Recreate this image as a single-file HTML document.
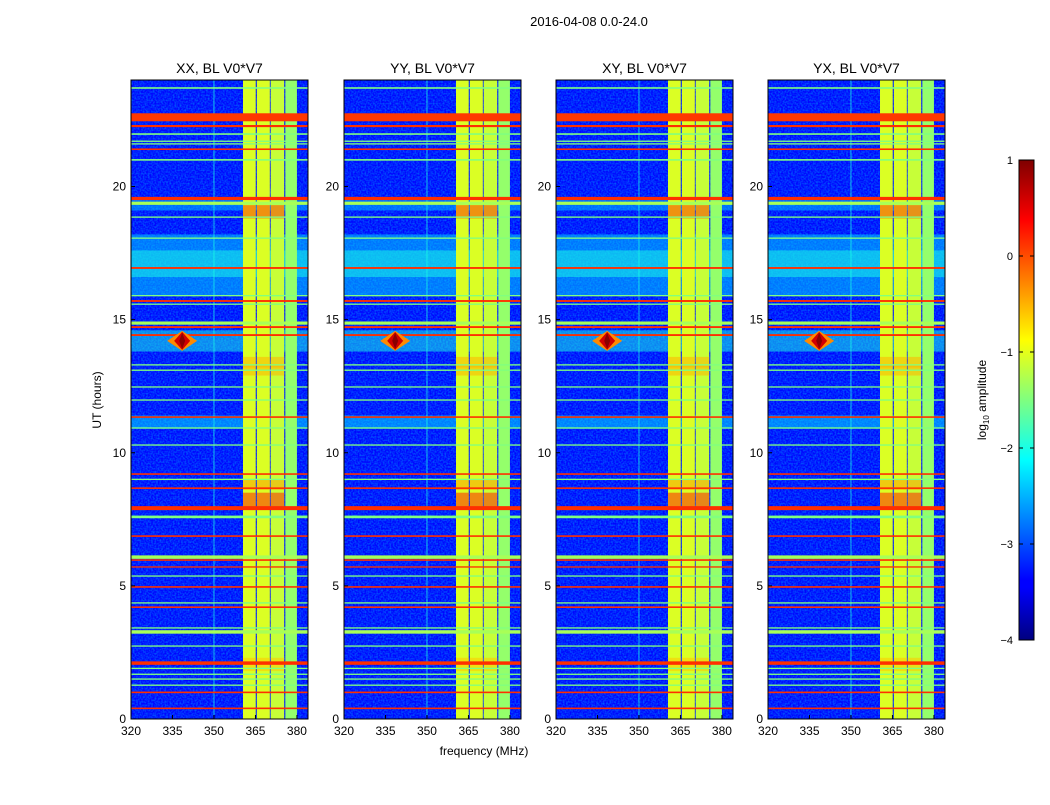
<!DOCTYPE html>
<html><head><meta charset="utf-8"><style>
body{margin:0;background:#fff;}
svg text{font-family:"Liberation Sans",sans-serif;fill:#000;}
</style></head><body>
<svg id="fig" width="1050" height="800" xmlns="http://www.w3.org/2000/svg">
<rect width="1050" height="800" fill="#fff"/>
<text x="589" y="26" font-size="13" text-anchor="middle">2016-04-08 0.0-24.0</text>
<text x="484" y="755" font-size="12" text-anchor="middle">frequency (MHz)</text>
<text transform="translate(101,400) rotate(-90)" font-size="12" text-anchor="middle">UT (hours)</text>
<defs><linearGradient id="jet" x1="0" y1="1" x2="0" y2="0">
<stop offset="0" stop-color="#00007f"/><stop offset="0.11" stop-color="#0000ff"/><stop offset="0.125" stop-color="#0000ff"/>
<stop offset="0.375" stop-color="#00ffff"/><stop offset="0.625" stop-color="#ffff00"/><stop offset="0.875" stop-color="#ff0000"/><stop offset="1" stop-color="#7f0000"/>
</linearGradient>
<filter id="noise" x="0" y="0" width="100%" height="100%"><feTurbulence type="fractalNoise" baseFrequency="0.6" numOctaves="1" seed="3"/><feColorMatrix values="0 0 0 0 0  0 0 0 0 0.6  0 0 0 0 1  0 0 0 0.9 -0.3"/></filter>
</defs>
<g id="panels"></g>
<g id="cbar">
<rect x="1019" y="160" width="15" height="480" fill="url(#jet)" stroke="#000" stroke-width="1"/>
</g>
<text transform="translate(986,400) rotate(-90)" font-size="12" text-anchor="middle">log<tspan font-size="8" dy="3">10</tspan><tspan dy="-3"> amplitude</tspan></text>
</svg>
<script>
const titles=["XX, BL V0*V7","YY, BL V0*V7","XY, BL V0*V7","YX, BL V0*V7"];
const panelLefts=[131,344,556,768];
const xTicks=[320,335,350,365,380];
const yTicks=[0,5,10,15,20];
const cbTicks=[1,0,-1,-2,-3,-4];
// frequency bands of strong RFI [start MHz, end MHz, log amp]
const bandStart=[360.5,365.5,370.5,375.8];
const bandEnd=[365.1,370.2,375.4,380.0];
const bandLevel=[-1.05,-1.05,-1.15,-1.4];
// broad time regions [h0,h1,value]
const regionH0=[15.9,10.9,13.8,19.1,16.6];
const regionH1=[18.2,11.4,14.6,19.5,17.6];
const regionVal=[-2.3,-2.2,-2.0,-2.4,-2.0];
// horizontal lines [hour, value, thickness hours]
const lineHour=[23.7,22.6,22.27,21.97,21.7,21.6,21.4,21.0,19.55,19.37,18.85,18.06,16.94,15.9,15.7,15.58,14.87,14.72,14.42,13.3,13.1,12.47,11.98,11.34,10.93,10.29,9.2,9.0,8.67,7.92,7.59,6.87,6.08,5.97,5.71,5.37,4.96,4.36,4.2,3.42,3.27,2.74,2.1,1.9,1.68,1.5,1.27,1.0,0.4];
const lineVal=[-1.5,0.1,0.15,-1.5,-1.5,-1.5,0.15,-1.5,0.15,-1.3,-1.5,-1.5,0.15,-1.5,0.15,-1.5,-1.3,0.15,0.15,-1.5,-1.5,-1.5,-1.5,0.15,-1.5,-1.5,0.15,-1.5,0.15,0.15,-1.5,0.15,-1.3,0.15,0.15,-1.5,0.15,-1.5,0.15,-1.5,-1.3,-1.5,0.15,-1.5,-1.5,-1.5,-1.5,0.15,0.15];
const lineThick=[0.06,0.3,0.08,0.06,0.05,0.05,0.06,0.06,0.12,0.12,0.05,0.05,0.07,0.05,0.07,0.05,0.12,0.07,0.07,0.05,0.05,0.05,0.05,0.06,0.05,0.05,0.06,0.05,0.06,0.15,0.1,0.06,0.13,0.06,0.05,0.05,0.06,0.05,0.06,0.05,0.13,0.05,0.13,0.05,0.05,0.05,0.05,0.06,0.06];
// hot patches inside RFI bands [h0,h1,value]
const hotH0=[18.8,13.2,7.9,8.6,12.9,1.8];
const hotH1=[19.3,13.6,8.5,9.0,13.3,2.3];
const hotVal=[0.1,-0.5,0.2,-0.4,-0.5,-0.6];
// blob (source) at [MHz, hour]
const blobF=338.5, blobH=14.2;

function jet(v){const t=Math.max(0,Math.min(1,(v+4)/5));
 const c=x=>Math.round(255*Math.max(0,Math.min(1,x)));
 return `rgb(${c(1.5-Math.abs(4*t-3))},${c(1.5-Math.abs(4*t-2))},${c(1.5-Math.abs(4*t-1))})`;}
const NS="http://www.w3.org/2000/svg";
function el(tag,attrs,parent){const e=document.createElementNS(NS,tag);for(const k in attrs)e.setAttribute(k,attrs[k]);parent.appendChild(e);return e;}
const top0=80,bot0=719,W=177,fMin=320,fMax=384,hMax=24;
const panels=document.getElementById('panels');
panelLefts.forEach((L,pi)=>{
 const xs=f=>L+(f-fMin)/(fMax-fMin)*W;
 const ys=h=>bot0-h/hMax*(bot0-top0);
 const g=el('g',{},panels);
 
 
 const bg=el('rect',{x:L,y:top0,width:W,height:bot0-top0,fill:jet(-3.35)},g);
 
 
 el('rect',{x:L,y:top0,width:W,height:bot0-top0,filter:'url(#noise)'},g);
 regionH0.forEach((h0,i)=>{const r=el('rect',{x:L,y:ys(regionH1[i]),width:W,height:ys(h0)-ys(regionH1[i]),fill:jet(regionVal[i]),opacity:0.5},g);
  
  });
 el('line',{x1:xs(350),x2:xs(350),y1:top0,y2:bot0,stroke:jet(-2),'stroke-width':1,opacity:0.7},g);
 bandStart.forEach((s,i)=>{const r=el('rect',{x:xs(s),y:top0,width:xs(bandEnd[i])-xs(s),height:bot0-top0,fill:jet(bandLevel[i])},g);
  
  });
 hotH0.forEach((h0,i)=>{bandStart.slice(0,3).forEach((s,j)=>{const r=el('rect',{x:xs(s),y:ys(hotH1[i]),width:xs(bandEnd[j])-xs(s),height:ys(h0)-ys(hotH1[i]),fill:jet(hotVal[i]),opacity:0.55},g);
  
  });});
 lineHour.forEach((h,i)=>{const t=lineThick[i];const r=el('rect',{x:L,y:ys(h+t/2),width:W,height:Math.max(1.2,ys(h-t/2)-ys(h+t/2)),fill:jet(lineVal[i])},g);
  
  });
 const bx=xs(blobF),by=ys(blobH);
 const b=el('path',{d:`M${bx-15},${by} L${bx},${by-10} L${bx+15},${by} L${bx},${by+10}Z`,fill:jet(-0.3)},g);
 
 
 el('path',{d:`M${bx-8},${by} L${bx},${by-9} L${bx+8},${by} L${bx},${by+9}Z`,fill:jet(0.6)},g);
 el('path',{d:`M${bx-3},${by} L${bx},${by-8} L${bx+3},${by} L${bx},${by+8}Z`,fill:jet(0.95)},g);
 el('rect',{x:L,y:top0,width:W,height:bot0-top0,fill:'none',stroke:'#000','stroke-width':1},g);
 const t=el('text',{x:L+W/2,y:73,'font-size':14,'text-anchor':'middle'},g);t.textContent=titles[pi];
 
 
 xTicks.forEach(v=>{const x=xs(v);el('line',{x1:x,x2:x,y1:bot0,y2:bot0-4,stroke:'#000'},g);
  const tx=el('text',{x:x,y:bot0+16,'font-size':12,'text-anchor':'middle'},g);tx.textContent=v;
  
  });
 yTicks.forEach(v=>{const y=ys(v);el('line',{x1:L,x2:L+4,y1:y,y2:y,stroke:'#000'},g);
  const ty=el('text',{x:L-5,y:y+4,'font-size':12,'text-anchor':'end'},g);ty.textContent=v;
  
  });
});
const cb=document.getElementById('cbar');
cbTicks.forEach(v=>{const y=160+(1-v)/5*480;
 el('line',{x1:1019,x2:1023,y1:y,y2:y,stroke:'#000'},cb);
 el('line',{x1:1030,x2:1034,y1:y,y2:y,stroke:'#000'},cb);
 const t=el('text',{x:1013,y:y+4,'font-size':11,'text-anchor':'end'},cb);t.textContent=v<0?'\u2212'+(-v):v;
 
 });
</script>
</body></html>
